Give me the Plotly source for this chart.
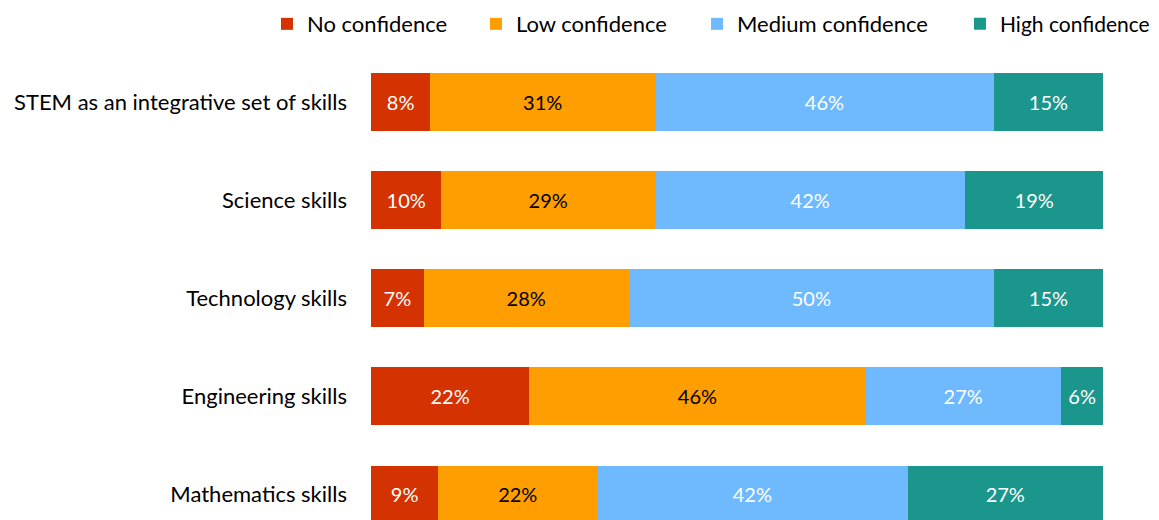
import plotly.graph_objects as go

categories = ["STEM as an integrative set of skills", "Science skills", "Technology skills",
              "Engineering skills", "Mathematics skills"]
series_names = ["No confidence", "Low confidence", "Medium confidence", "High confidence"]
no_conf = [8.1, 9.6, 7.2, 21.6, 9.2]
low_conf = [30.7, 29.2, 28.0, 46.0, 21.7]
med_conf = [46.3, 42.4, 49.9, 26.6, 42.4]
high_conf = [14.9, 18.8, 14.9, 5.9, 26.7]

colors = ["#D43200", "#FF9E00", "#6FB9FF", "#1B968D"]
text_colors = ["white", "black", "white", "white"]
FONT = "Lato, Calibri, Carlito, sans-serif"

legend_ids = ["legend", "legend2", "legend3", "legend4"]
legend_x = [-0.1421, 0.1434, 0.4454, 1.071]
legend_anchor = ["left", "left", "left", "right"]
legend_size = [22, 22, 22, 21]

fig = go.Figure()
for name, vals, c, tc, lg in zip(series_names, [no_conf, low_conf, med_conf, high_conf],
                                 colors, text_colors, legend_ids):
    fig.add_trace(go.Bar(
        y=categories, x=vals, name=name, orientation="h", legend=lg,
        marker=dict(color=c, line=dict(width=0)),
        texttemplate="%{x:.0f}%", textposition="inside", insidetextanchor="middle",
        textfont=dict(color=tc, size=20, family=FONT),
        hoverinfo="skip",
    ))

layout_legends = {}
for lg, lx, la, ls in zip(legend_ids, legend_x, legend_anchor, legend_size):
    layout_legends[lg] = dict(orientation="h", x=lx, xanchor=la, y=1.062, yanchor="middle",
                              font=dict(size=ls, family=FONT), itemwidth=30,
                              bgcolor="rgba(0,0,0,0)")

fig.update_layout(
    barmode="stack", bargap=0.41,
    width=1151, height=512,
    margin=dict(l=363, r=56, t=45, b=0, autoexpand=False),
    plot_bgcolor="white", paper_bgcolor="white",
    font=dict(family=FONT, size=22, color="black"),
    showlegend=True,
    uniformtext=dict(mode=False),
    **layout_legends,
)
fig.update_xaxes(range=[0, 100], showgrid=False, zeroline=False, showticklabels=False, showline=False)
fig.update_yaxes(autorange=False, range=[4.26, -0.5], showgrid=False, zeroline=False, showline=False,
                 ticks="", ticklabelstandoff=23, tickfont=dict(size=22, family=FONT))

fig.write_html("out.html")
